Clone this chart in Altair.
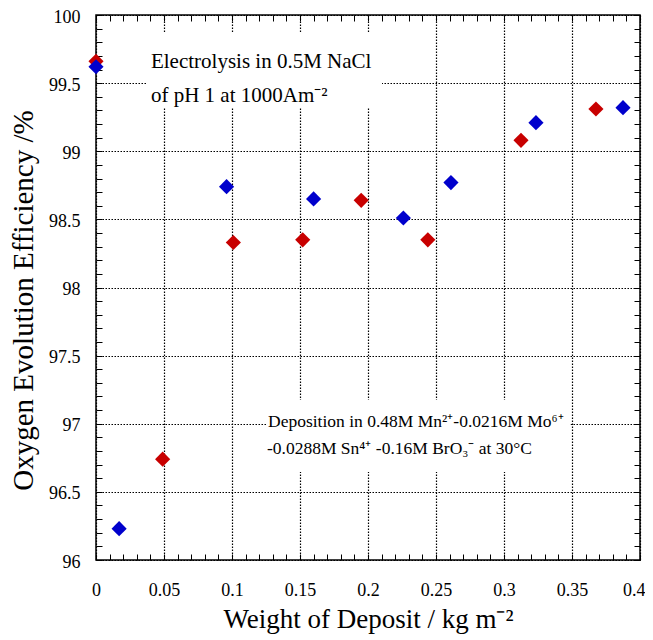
import altair as alt
import pandas as pd

# ---- data ----
red_x = [0.0, 0.049, 0.101, 0.152, 0.195, 0.244, 0.3125, 0.3676]
red_y = [99.66, 96.74, 98.33, 98.35, 98.64, 98.35, 99.08, 99.31]
blue_x = [0.0, 0.017, 0.096, 0.160, 0.226, 0.261, 0.3235, 0.3875]
blue_y = [99.62, 96.23, 98.74, 98.65, 98.51, 98.77, 99.21, 99.32]

x_major = [0, 0.05, 0.1, 0.15, 0.2, 0.25, 0.3, 0.35, 0.4]
y_major = [96, 96.5, 97, 97.5, 98, 98.5, 99, 99.5, 100]
x_minor = [round(i * 0.01, 2) for i in range(41)]
y_minor = [round(96 + i * 0.1, 1) for i in range(41)]

note1_text = ["Electrolysis in 0.5M NaCl", "of pH 1 at 1000Am⁻²"]
note1_x = [0.0404, 0.0404]
note1_y = [99.611, 99.361]
note2_text = ["Deposition in 0.48M Mn²⁺-0.0216M Mo⁶⁺", "-0.0288M Sn⁴⁺ -0.16M BrO₃⁻ at 30°C"]
note2_x = [0.1265, 0.1257]
note2_y = [96.976, 96.778]

box_x0 = [0.0375, 0.1257]
box_x1 = [0.2103, 0.349]
box_y0 = [99.868, 97.174]
box_y1 = [99.317, 96.646]

FONT = "Liberation Serif"

pts = pd.DataFrame({
    "x": red_x + blue_x,
    "y": red_y + blue_y,
    "s": ["red"] * len(red_x) + ["blue"] * len(blue_x),
})
notes1 = pd.DataFrame({"x": note1_x, "y": note1_y, "t": note1_text})
notes2 = pd.DataFrame({"x": note2_x, "y": note2_y, "t": note2_text})
boxes = pd.DataFrame({"x0": box_x0, "x1": box_x1, "y0": box_y0, "y1": box_y1})

xs = alt.Scale(domain=[0, 0.4], nice=False, zero=False)
ys = alt.Scale(domain=[96, 100], nice=False, zero=False)

x_main = alt.Axis(orient="bottom", values=x_major, format="~g", grid=True,
                  gridColor="black", gridDash=[1.5, 1.5], gridWidth=1.2,
                  ticks=False, domain=False, labelFont=FONT, labelFontSize=18,
                  labelColor="black", labelPadding=21, labelFlush=False,
                  labelAlign=alt.condition("datum.value >= 0.39", alt.value("right"), alt.value("center")),
                  labelOffset=alt.condition("datum.value >= 0.39", alt.value(5), alt.value(0)),
                  title="Weight of Deposit / kg m⁻²", titleFont=FONT,
                  titleFontSize=27, titleFontWeight="normal", titleColor="black",
                  titlePadding=7)
y_main = alt.Axis(orient="left", values=y_major, format="~g", grid=True,
                  gridColor="black", gridDash=[1.5, 1.5], gridWidth=1.2,
                  ticks=False, domain=False, labelFont=FONT, labelFontSize=18,
                  labelColor="black", labelPadding=16, labelFlush=False,
                  labelOffset=2,
                  title="Oxygen Evolution Efficiency /%", titleFont=FONT,
                  titleFontSize=29, titleFontWeight="normal", titleColor="black",
                  titlePadding=10, titleY=285)


def tick_axis(orient, values):
    return alt.Axis(orient=orient, values=values, ticks=True, tickSize=6,
                    tickColor="black", tickWidth=1, offset=-6, labels=False,
                    domain=False, grid=False, title="")


rects = alt.Chart(boxes).mark_rect(color="white").encode(
    x=alt.X("x0:Q", scale=xs, axis=None), x2="x1:Q",
    y=alt.Y("y0:Q", scale=ys, axis=None), y2="y1:Q")

points = alt.Chart(pts).mark_point(shape="diamond", filled=True, size=230, opacity=1).encode(
    x=alt.X("x:Q", scale=xs, axis=x_main),
    y=alt.Y("y:Q", scale=ys, axis=y_main),
    color=alt.Color("s:N", scale=alt.Scale(domain=["red", "blue"], range=["#c80000", "#0000cc"]), legend=None),
    order=alt.Order("ord:Q"),
).transform_calculate(ord="datum.s == 'red' ? 0 : 1")

text1 = alt.Chart(notes1).mark_text(font=FONT, fontSize=21, align="left", baseline="alphabetic", color="black").encode(
    x=alt.X("x:Q", scale=xs, axis=None), y=alt.Y("y:Q", scale=ys, axis=None), text="t:N")
text2 = alt.Chart(notes2).mark_text(font=FONT, fontSize=17.5, align="left", baseline="alphabetic", color="black").encode(
    x=alt.X("x:Q", scale=xs, axis=None), y=alt.Y("y:Q", scale=ys, axis=None), text="t:N")

ticks_bl = alt.Chart(pts).mark_point(opacity=0).encode(
    x=alt.X("x:Q", scale=xs, axis=tick_axis("bottom", x_minor)),
    y=alt.Y("y:Q", scale=ys, axis=tick_axis("left", y_minor)))
ticks_tr = alt.Chart(pts).mark_point(opacity=0).encode(
    x=alt.X("x:Q", scale=xs, axis=tick_axis("top", x_minor)),
    y=alt.Y("y:Q", scale=ys, axis=tick_axis("right", y_minor)))

chart = alt.layer(rects, ticks_bl, ticks_tr, points, text1, text2).resolve_axis(
    x="independent", y="independent"
).properties(
    width=544, height=545,
    autosize=alt.AutoSizeParams(type="none"),
    padding={"left": 88, "top": 7, "right": 5, "bottom": 80},
    background="white",
).configure_view(stroke="black", strokeWidth=1.5
).configure_axis(labelFont=FONT, titleFont=FONT)

chart.save("out.html", embed_options={"renderer": "svg", "actions": False})
